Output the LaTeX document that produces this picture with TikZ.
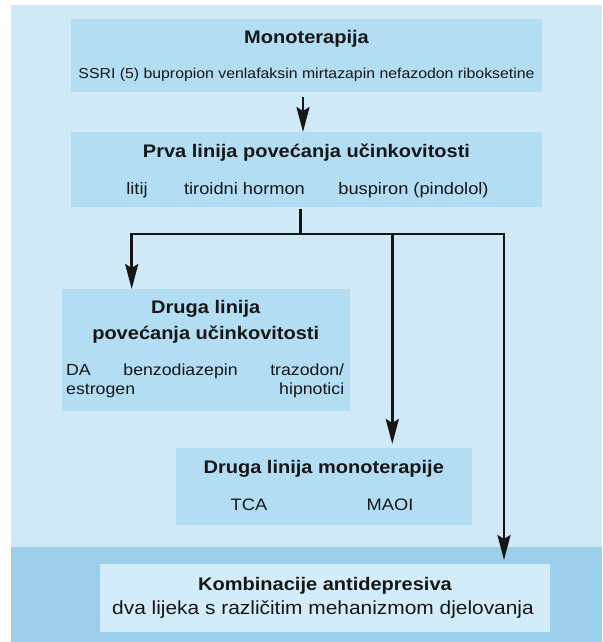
\documentclass[tikz,border=0pt]{standalone}
\usepackage{fontspec}
\setmainfont{Liberation Sans}[FakeStretch=1.1]
\usetikzlibrary{arrows.meta}
\definecolor{bgLight}{RGB}{207,233,247}
\definecolor{boxBlue}{RGB}{179,221,243}
\definecolor{bandBlue}{RGB}{155,207,235}
\definecolor{kombBox}{RGB}{211,236,249}
\definecolor{ink}{RGB}{22,22,22}
\newcommand{\fTitle}{\fontsize{18.2pt}{22pt}\selectfont\bfseries}
\newcommand{\fSmall}{\fontsize{14.4pt}{17pt}\selectfont}
\newcommand{\fMid}{\fontsize{16.6pt}{20pt}\selectfont}
\newcommand{\fDl}{\fontsize{16.1pt}{20pt}\selectfont}
\newcommand{\fSub}{\fontsize{19pt}{23pt}\selectfont}
\begin{document}
\begin{tikzpicture}[x=1pt,y=-1pt,
  box/.style={fill=boxBlue, draw=none, inner sep=0pt, outer sep=0pt},
  txt/.style={anchor=base, inner sep=0pt, text=ink},
  conn/.style={draw=ink, line width=2.7pt},
  arr/.style={conn, -{Stealth[length=25pt,width=13pt,inset=4pt]}}]
\useasboundingbox (0,0) rectangle (602,642);
\fill[bgLight] (11,5) rectangle (602,547);
\fill[bandBlue] (11,547) rectangle (602,642);

% boxes
\node[box, minimum width=471pt, minimum height=73pt] (mono) at (306.5,55.5) {};
\node[box, minimum width=471pt, minimum height=75pt] (prva) at (306.5,169.5) {};
\node[box, minimum width=288.5pt, minimum height=122pt] (d1) at (205.75,350) {};
\node[box, minimum width=296.5pt, minimum height=77pt] (d2) at (323.75,486.5) {};
\node[box, fill=kombBox, minimum width=450pt, minimum height=68pt] (komb) at (325,598) {};

% texts
\node[txt] (monoT) at (306.5,44) {\fTitle Monoterapija};
\node[txt] (monoB) at (306.5,78) {\fSmall SSRI (5) bupropion venlafaksin mirtazapin nefazodon riboksetine};
\node[txt] (prvaT) at (306.5,157) {\fTitle Prva linija povećanja učinkovitosti};
\node[txt] (prvaA) at (137,194) {\fMid litij};
\node[txt] (prvaB) at (244.5,194) {\fMid tiroidni hormon};
\node[txt] (prvaC) at (413.5,194) {\fMid buspiron (pindolol)};
\node[txt] (d1T) at (205.75,313) {\fTitle Druga linija};
\node[txt] (d1U) at (205.75,339) {\fTitle povećanja učinkovitosti};
\node[txt, anchor=base west] (d1A) at (66,375) {\fDl\makebox[278pt]{DA\hfill benzodiazepin\hfill trazodon/}};
\node[txt, anchor=base west] (d1B) at (66,394) {\fDl\makebox[278pt]{estrogen\hfill hipnotici}};
\node[txt] (d2T) at (323.75,473) {\fTitle Druga linija monoterapije};
\node[txt] (d2A) at (249,510) {\fMid TCA};
\node[txt] (d2B) at (390,510) {\fMid MAOI};
\node[txt] (kT) at (325,590) {\fTitle Kombinacije antidepresiva};
\node[txt] (kS) at (323,614) {\fSub dva lijeka s različitim mehanizmom djelovanja};

% connectors
\coordinate (jc) at (300.5,234);
\coordinate (jl) at (131.7,234);
\coordinate (jm) at (392.3,234);
\coordinate (jr) at (504,234);
\draw[arr] ([xshift=-3.5pt,yshift=-5pt]mono.south) -- ([xshift=-3.5pt]prva.north);
\draw[conn] ([yshift=-2pt]prva.south -| jc) -- (jc);
\draw[arr] (jc) -- (jl) -- (jl |- d1.north);
\draw[arr] (jc) -- (jr) -- ([yshift=4pt]jr |- komb.north);
\draw[arr] (jm) -- ([yshift=4pt]jm |- d2.north);
\end{tikzpicture}
\end{document}
